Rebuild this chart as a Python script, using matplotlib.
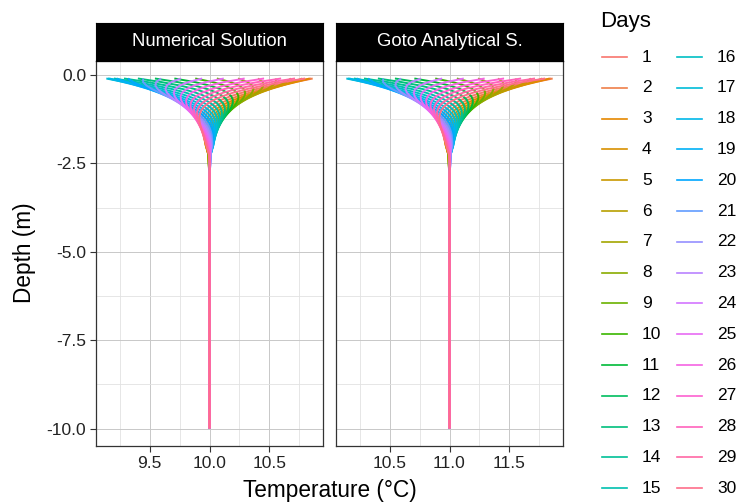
import numpy as np
import matplotlib
matplotlib.use("Agg")
import matplotlib.pyplot as plt
from matplotlib.lines import Line2D

plt.rcParams['font.family'] = ['Liberation Sans', 'DejaVu Sans']

# profile depths (m, positive downwards) and the two mean temperatures
days = list(range(1, 31))
depths = [0.1, 0.2, 0.3, 0.4, 0.5, 0.6, 0.7, 0.8, 0.9, 1.0, 1.1, 1.2, 1.3, 1.4, 1.5,
          1.6, 1.7, 1.8, 1.9, 2.0, 2.25, 2.5, 3.0, 10.0]
numerical_mean = 10.0
goto_mean = 11.0

# temperature departure from the mean, in thousandths of a degree, one row per day
day_anom = [
    [847, 678, 524, 388, 273, 177, 101, 42, -2, -32, -52, -64, -68, -68, -64, -58, -51, -44, -36, -29, -7, -2, 0, 0],
    [860, 714, 575, 448, 335, 238, 157, 93, 42, 5, -22, -40, -50, -55, -55, -53, -48, -43, -37, -30, -8, -3, 0, 0],
    [835, 720, 602, 488, 382, 288, 207, 139, 84, 41, 9, -14, -30, -40, -44, -45, -43, -40, -36, -31, -9, -4, 0, 0],
    [774, 695, 603, 507, 412, 325, 248, 179, 122, 75, 40, 12, -9, -22, -31, -35, -37, -36, -33, -30, -10, -5, 0, 0],
    [679, 638, 576, 503, 426, 350, 278, 213, 156, 108, 69, 37, 13, -4, -16, -24, -28, -30, -29, -27, -10, -6, 0, 0],
    [553, 554, 525, 478, 420, 358, 295, 236, 182, 135, 95, 61, 35, 14, -1, -12, -19, -22, -24, -24, -10, -6, 0, 0],
    [404, 445, 451, 432, 396, 350, 300, 249, 200, 156, 116, 83, 54, 32, 14, 1, -8, -14, -18, -19, -9, -6, 0, 0],
    [238, 318, 357, 367, 355, 328, 292, 251, 210, 170, 133, 100, 72, 48, 29, 14, 3, -5, -11, -14, -8, -6, 0, 0],
    [61, 176, 248, 286, 298, 291, 271, 243, 210, 177, 144, 114, 86, 62, 43, 26, 14, 4, -3, -8, -6, -6, 0, 0],
    [-119, 26, 128, 192, 228, 241, 238, 223, 202, 176, 149, 122, 97, 74, 54, 37, 24, 13, 4, -2, -4, -5, 0, 0],
    [-293, -124, 2, 90, 148, 181, 194, 194, 184, 167, 147, 125, 103, 82, 63, 47, 33, 21, 12, 5, -3, -4, 0, 0],
    [-455, -269, -124, -16, 61, 112, 143, 157, 158, 151, 139, 122, 105, 87, 70, 54, 40, 29, 19, 11, 0, -3, 0, 0],
    [-597, -402, -245, -121, -28, 39, 85, 112, 126, 129, 124, 115, 102, 88, 73, 59, 46, 35, 25, 17, 2, -2, 0, 0],
    [-713, -518, -355, -221, -116, -35, 23, 63, 88, 100, 104, 102, 95, 85, 73, 62, 50, 40, 30, 22, 4, 0, 0, 0],
    [-797, -611, -449, -311, -198, -109, -40, 11, 46, 68, 80, 85, 83, 78, 70, 61, 52, 42, 34, 26, 5, 0, 0, 0],
    [-847, -678, -524, -388, -273, -177, -101, -42, 2, 32, 52, 64, 68, 68, 64, 58, 51, 44, 36, 29, 7, 2, 0, 0],
    [-860, -714, -575, -448, -335, -238, -157, -93, -42, -5, 22, 40, 50, 55, 55, 53, 48, 43, 37, 30, 8, 3, 0, 0],
    [-835, -720, -602, -488, -382, -288, -207, -139, -84, -41, -9, 14, 30, 40, 44, 45, 43, 40, 36, 31, 9, 4, 0, 0],
    [-774, -695, -603, -507, -412, -325, -248, -179, -122, -75, -40, -12, 9, 22, 31, 35, 37, 36, 33, 30, 10, 5, 0, 0],
    [-679, -638, -576, -503, -426, -350, -278, -213, -156, -108, -69, -37, -13, 4, 16, 24, 28, 30, 29, 27, 10, 6, 0, 0],
    [-553, -554, -525, -478, -420, -358, -295, -236, -182, -135, -95, -61, -35, -14, 1, 12, 19, 22, 24, 24, 10, 6, 0, 0],
    [-404, -445, -451, -432, -396, -350, -300, -249, -200, -156, -116, -83, -54, -32, -14, -1, 8, 14, 18, 19, 9, 6, 0, 0],
    [-238, -318, -357, -367, -355, -328, -292, -251, -210, -170, -133, -100, -72, -48, -29, -14, -3, 5, 11, 14, 8, 6, 0, 0],
    [-61, -176, -248, -286, -298, -291, -271, -243, -210, -177, -144, -114, -86, -62, -43, -26, -14, -4, 3, 8, 6, 6, 0, 0],
    [119, -26, -128, -192, -228, -241, -238, -223, -202, -176, -149, -122, -97, -74, -54, -37, -24, -13, -4, 2, 4, 5, 0, 0],
    [293, 124, -2, -90, -148, -181, -194, -194, -184, -167, -147, -125, -103, -82, -63, -47, -33, -21, -12, -5, 3, 4, 0, 0],
    [455, 269, 124, 16, -61, -112, -143, -157, -158, -151, -139, -122, -105, -87, -70, -54, -40, -29, -19, -11, 0, 3, 0, 0],
    [597, 402, 245, 121, 28, -39, -85, -112, -126, -129, -124, -115, -102, -88, -73, -59, -46, -35, -25, -17, -2, 2, 0, 0],
    [713, 518, 355, 221, 116, 35, -23, -63, -88, -100, -104, -102, -95, -85, -73, -62, -50, -40, -30, -22, -4, 0, 0, 0],
    [797, 611, 449, 311, 198, 109, 40, -11, -46, -68, -80, -85, -83, -78, -70, -61, -52, -42, -34, -26, -5, 0, 0, 0],
]


def hue_pal(n, l=65, c=100):
    # ggplot2 default discrete colours (hcl wheel)
    out = []
    Xn, Yn, Zn = 0.95047, 1.0, 1.08883
    un = 4 * Xn / (Xn + 15 * Yn + 3 * Zn)
    vn = 9 * Yn / (Xn + 15 * Yn + 3 * Zn)
    for h in np.linspace(15, 375, n + 1)[:-1]:
        u = c * np.cos(np.deg2rad(h))
        v = c * np.sin(np.deg2rad(h))
        Y = ((l + 16) / 116) ** 3
        up = u / (13 * l) + un
        vp = v / (13 * l) + vn
        X = 9 * Y * up / (4 * vp)
        Z = Y * (12 - 3 * up - 20 * vp) / (4 * vp)
        rgb = np.array([3.2404542 * X - 1.5371385 * Y - 0.4985314 * Z,
                        -0.9692660 * X + 1.8760108 * Y + 0.0415560 * Z,
                        0.0556434 * X - 0.2040259 * Y + 1.0572252 * Z])
        rgb = np.where(rgb > 0.0031308, 1.055 * np.abs(rgb) ** (1 / 2.4) - 0.055, 12.92 * rgb)
        out.append(tuple(np.clip(rgb, 0, 1)))
    return out


colors = hue_pal(len(days))

W, H = 737, 504
fig = plt.figure(figsize=(W / 100, H / 100), dpi=100)


def px(x0, y0, x1, y1):
    return [x0 / W, 1 - y1 / H, (x1 - x0) / W, (y1 - y0) / H]


panels = [("Numerical Solution", numerical_mean, 96, 323),
          ("Goto Analytical S.", goto_mean, 336, 563)]
ylo, yhi = -10.495, 0.395
for i, (title, mean, x0, x1) in enumerate(panels):
    ax = fig.add_axes(px(x0, 61, x1, 446))
    allv = []
    for d, row, col in zip(days, day_anom, colors):
        temps = [mean + v / 1000 for v in row]
        allv += temps
        ax.plot(temps, [-dd for dd in depths], color=col, lw=1.4, solid_capstyle='butt')
    lo, hi = min(allv), max(allv)
    pad = 0.05 * (hi - lo)
    ax.set_xlim(lo - pad, hi + pad)
    ax.set_ylim(ylo, yhi)
    xt = [mean - 0.5, mean, mean + 0.5]
    ax.set_xticks(xt)
    ax.set_xticklabels([f"{v:.1f}" for v in xt])
    ax.set_xticks([mean - 0.75, mean - 0.25, mean + 0.25, mean + 0.75], minor=True)
    ax.set_yticks([0, -2.5, -5, -7.5, -10])
    ax.set_yticks([-1.25, -3.75, -6.25, -8.75], minor=True)
    ax.grid(which='major', color='#c8c8c8', lw=0.7)
    ax.grid(which='minor', color='#e2e2e2', lw=0.6)
    ax.set_axisbelow(True)
    ax.tick_params(which='minor', length=0)
    ax.tick_params(which='major', direction='out', length=4, width=0.8, color='#333333',
                   labelsize=12.5, labelcolor='#222222', pad=3)
    if i == 0:
        ax.set_yticklabels(["0.0", "-2.5", "-5.0", "-7.5", "-10.0"])
    else:
        ax.tick_params(axis='y', which='both', left=False, labelleft=False)
    for s in ax.spines.values():
        s.set_color('#333333')
        s.set_linewidth(0.9)
    # facet strip
    sax = fig.add_axes(px(x0, 23, x1, 61))
    sax.set_facecolor('black')
    sax.set_xticks([])
    sax.set_yticks([])
    for s in sax.spines.values():
        s.set_color('black')
    sax.text(0.5, 0.5, title, color='white', fontsize=13.3, ha='center', va='center',
             transform=sax.transAxes)

fig.text(330 / W, 1 - 491 / H, "Temperature (°C)", fontsize=16.3, ha='center', va='center')
fig.text(25 / W, 1 - 253 / H, "Depth (m)", fontsize=16.3, ha='center', va='center', rotation=90)

# legend, two columns of 15
fig.text(600 / W, 1 - 27 / H, "Days", fontsize=16, ha='left', va='baseline')
for k, (d, col) in enumerate(zip(days, colors)):
    c = k // 15
    r = k % 15
    y = 1 - (57 + 30.8 * r) / H
    kx = 602 + 75 * c
    fig.add_artist(Line2D([kx / W, (kx + 25) / W], [y, y], color=col, lw=1.2))
    fig.text((kx + 40) / W, y, str(d), fontsize=12.5, ha='left', va='center')

fig.savefig("out.png", dpi=100)
